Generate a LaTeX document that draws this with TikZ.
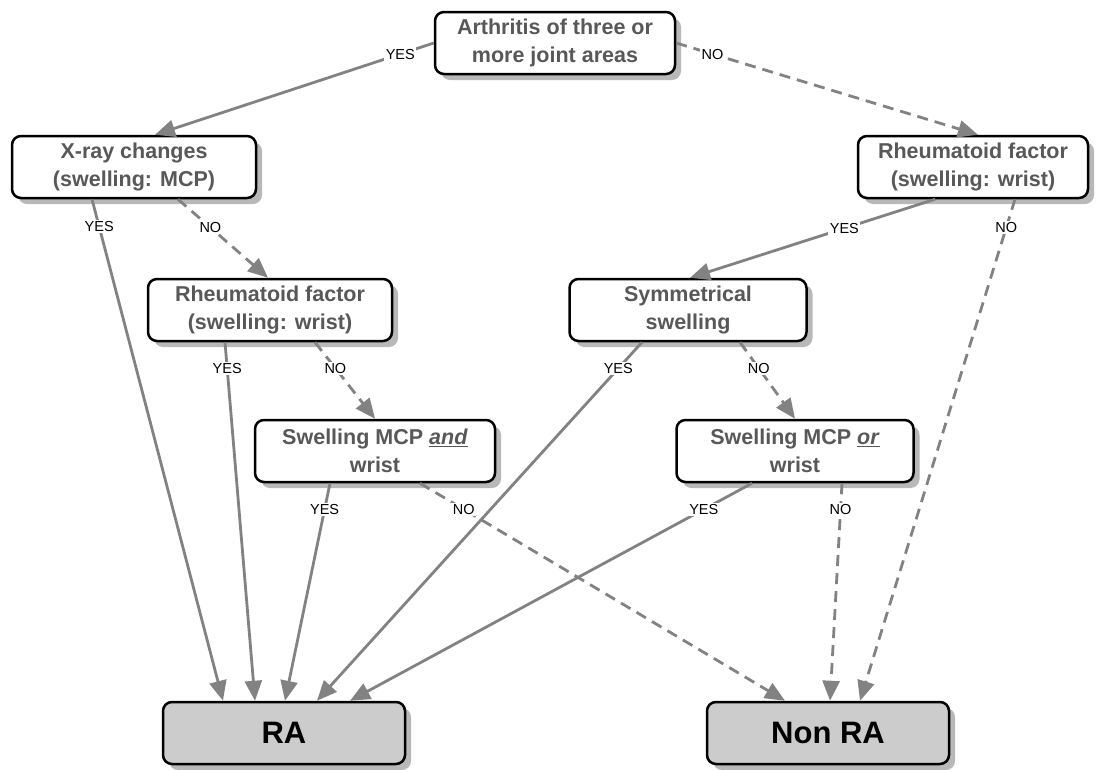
\documentclass[tikz,border=0pt]{standalone}
\usepackage{fontspec}
\setmainfont{Liberation Sans}
\usetikzlibrary{arrows.meta,shadows}
\definecolor{boxtext}{RGB}{88,88,88}
\definecolor{edgegray}{RGB}{130,130,130}
\definecolor{finalfill}{RGB}{204,204,204}

\tikzset{
  box/.style={draw=black, line width=2.5pt, rounded corners=9pt, fill=white,
    minimum width=240pt, minimum height=62pt, align=center, inner sep=2pt,
    font=\fontsize{21.5}{27.5}\selectfont\bfseries, text=boxtext,
    drop shadow={shadow xshift=6pt, shadow yshift=-6pt, fill=black!28, opacity=1}},
  final/.style={box, fill=finalfill, text=black, font=\fontsize{31}{36}\selectfont\bfseries},
  yes/.style={draw=edgegray, line width=2.8pt, -{Triangle[length=20pt,width=17pt]}},
  no/.style={yes, dash pattern=on 11pt off 7pt},
  lbl/.style={fill=white, inner sep=1.5pt, text=black, font=\fontsize{14.5}{16}\selectfont}
}

\begin{document}
\begin{tikzpicture}[x=1pt, y=-1pt]
\useasboundingbox (0,0) rectangle (1099,769);

% questions
\node[box] (arthritis) at (555,43) {Arthritis of three or\\more joint areas};
\node[box, minimum width=244pt] (xray) at (134,167) {X-ray changes\\(swelling: MCP)};
\node[box, minimum width=230pt] (rfright) at (973,167) {Rheumatoid factor\\(swelling: wrist)};
\node[box, minimum width=244pt] (rfleft) at (270,310) {Rheumatoid factor\\(swelling: wrist)};
\node[box, minimum width=237pt] (symm) at (688,310) {Symmetrical\\swelling};
\node[box] (mcpand) at (375,451) {Swelling MCP \underline{\textit{and}}\\wrist};
\node[box, minimum width=237pt] (mcpor) at (795,451) {Swelling MCP \underline{\textit{or}}\\wrist};

% outcomes
\node[final, minimum width=242pt] (ra) at (284,733) {RA};
\node[final, minimum width=242pt] (nonra) at (828,733) {Non RA};

% yes branches
\draw[yes] (arthritis.west) -- ([xshift=21pt]xray.north) node[lbl, pos=0.12] {YES};
\draw[yes] ([xshift=-42pt]xray.south) -- ([xshift=-61pt]ra.north) node[lbl, pos=0.055] {YES};
\draw[yes] ([xshift=-38pt]rfright.south) -- ([xshift=2pt]symm.north) node[lbl, pos=0.37] {YES};
\draw[yes] ([xshift=-45pt]rfleft.south) -- ([xshift=-29pt]ra.north) node[lbl, pos=0.073] {YES};
\draw[yes] ([xshift=-46pt]symm.south) -- ([xshift=33pt]ra.north) node[lbl, pos=0.073] {YES};
\draw[yes] ([xshift=-45pt]mcpand.south) -- ([xshift=1pt]ra.north) node[lbl, pos=0.12] {YES};
\draw[yes] ([xshift=-43pt]mcpor.south) -- ([xshift=66pt]ra.north) node[lbl, pos=0.12] {YES};

% no branches
\draw[no] (arthritis.east) -- ([xshift=5pt]rfright.north) node[lbl, pos=0.12] {NO};
\draw[no] ([xshift=44pt]xray.south) -- ([xshift=-2pt]rfleft.north) node[lbl, pos=0.36] {NO};
\draw[no] ([xshift=42pt]rfright.south) -- ([xshift=32pt]nonra.north) node[lbl, pos=0.056] {NO};
\draw[no] ([xshift=45pt]rfleft.south) -- (mcpand.north) node[lbl, pos=0.34] {NO};
\draw[no] ([xshift=52pt]symm.south) -- (mcpor.north) node[lbl, pos=0.34] {NO};
\draw[no] ([xshift=45pt]mcpand.south) -- ([xshift=-43pt]nonra.north) node[lbl, pos=0.12] {NO};
\draw[no] ([xshift=47pt]mcpor.south) -- ([xshift=2pt]nonra.north) node[lbl, pos=0.12] {NO};
\end{tikzpicture}
\end{document}
